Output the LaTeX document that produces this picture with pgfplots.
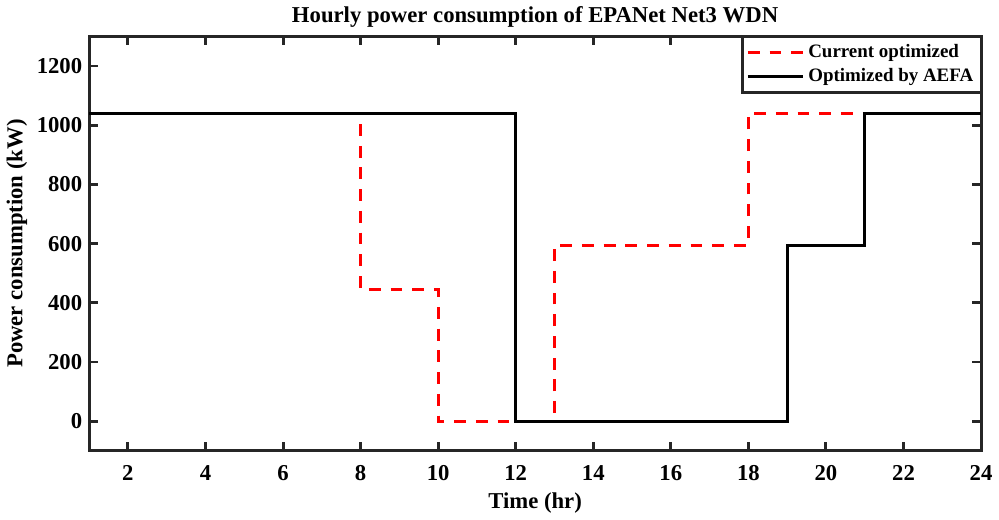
\documentclass[border=0pt]{standalone}
\usepackage{pgfplots}
\pgfplotsset{compat=1.18}
\usepackage{fontspec}
\setmainfont{Liberation Serif}
\begin{document}
\begin{tikzpicture}
\begin{axis}[
  scale only axis,
  width=452pt, height=210pt,
  xmin=1, xmax=24, ymin=-100, ymax=1300,
  xtick={2,4,...,24}, ytick={0,200,...,1200},
  axis line style={line width=1.5pt, color=black!85},
  tick style={line width=1.5pt, color=black!85},
  major tick length=4.5pt,
  tick align=inside,
  font=\bfseries\fontsize{11.5}{13}\selectfont,
  ticklabel style={font=\bfseries\fontsize{11.5}{13}\selectfont},
  xticklabel style={yshift=-4pt},
  /pgf/number format/assume math mode=true,
  /pgf/number format/1000 sep={},
  title={Hourly power consumption of EPANet Net3 WDN},
  title style={font=\bfseries\fontsize{11.5}{13}\selectfont, yshift=-5pt},
  xlabel={Time (hr)},
  ylabel={Power consumption (kW)},
  xlabel style={font=\bfseries\fontsize{11.5}{13}\selectfont, yshift=1pt},
  ylabel style={font=\bfseries\fontsize{11.5}{13}\selectfont, yshift=-2pt},
  legend cell align=left,
  legend style={draw=black!85, line width=1.5pt, inner sep=2pt, outer sep=0pt, at={(1,1)}, anchor=north east, font=\bfseries\fontsize{9.6}{11}\selectfont, row sep=0pt},
  legend image code/.code={\draw[#1, line width=1.5pt] (0cm,0cm) -- (0.98cm,0cm);},
]
\addplot[const plot, red, line width=1.5pt, dash pattern=on 6pt off 5pt] coordinates {
(1,1040) (8,445) (10,0) (13,595) (18,1040) (21,1040) (24,1040)};
\addlegendentry{Current optimized}
\addplot[const plot, black, line width=1.5pt] coordinates {
(1,1040) (12,0) (19,595) (21,1040) (24,1040)};
\addlegendentry{Optimized by AEFA}
\end{axis}
\end{tikzpicture}
\end{document}
